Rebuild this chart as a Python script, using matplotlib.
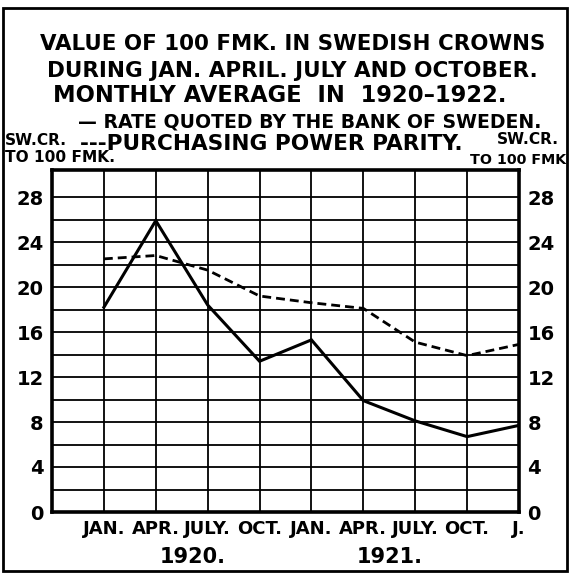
import matplotlib
matplotlib.use("Agg")
import matplotlib.pyplot as plt
import matplotlib.transforms as mtransforms
from matplotlib.patches import Rectangle

# quarter labels along the bottom, Jan 1920 .. Jan 1922
months = ["JAN.", "APR.", "JULY.", "OCT.", "JAN.", "APR.", "JULY.", "OCT.", "J."]
years = ["1920.", "1921."]
year_pos = [2.72, 6.5]

# Swedish crowns per 100 Finnish marks
bank_rate = [18.2, 25.9, 18.4, 13.4, 15.3, 9.9, 8.1, 6.7, 7.7]
parity = [22.5, 22.8, 21.5, 19.2, 18.6, 18.1, 15.1, 13.9, 14.9]

y_labels = [0, 4, 8, 12, 16, 20, 24, 28]

W, H = 570, 575
fig = plt.figure(figsize=(W / 100, H / 100), dpi=100)
plt.rcParams['font.family'] = ['DejaVu Sans']
renderer = fig.canvas.get_renderer()


def fit_text(s, x0, x1, base, size=14):
    # put text with its left edge at x0 and stretch font so it ends at x1 (pixels)
    t = fig.text(x0 / W, 1 - base / H, s, fontsize=size, fontweight='bold',
                 ha='left', va='baseline')
    bb = t.get_window_extent(renderer)
    t.set_fontsize(size * (x1 - x0) / bb.width)
    return t


fit_text("VALUE OF 100 FMK. IN SWEDISH CROWNS", 40, 545, 50)
fit_text("DURING JAN. APRIL. JULY AND OCTOBER.", 47, 537, 77)
fit_text("MONTHLY AVERAGE  IN  1920\u20131922.", 53, 507, 102)
fit_text("\u2014 RATE QUOTED BY THE BANK OF SWEDEN.", 78, 540, 127)
fit_text("SW.CR.", 5, 67, 145)
fit_text("---PURCHASING POWER PARITY.", 80, 462, 150)
fit_text("SW.CR.", 497, 559, 144)
fit_text("TO 100 FMK.", 5, 115, 162)
fit_text("TO 100 FMK", 470, 566, 164)

# outer border of the sheet
fig.patches.append(Rectangle((3 / W, 1 - 571 / H), 564 / W, 563 / H,
                             transform=fig.transFigure, fill=False,
                             edgecolor='black', linewidth=2))

ax = fig.add_axes([52 / W, 1 - 512 / H, 467 / W, 342 / H])
x = list(range(1, len(months) + 1))
ax.plot(x, bank_rate, color='black', linewidth=2.2, solid_joinstyle='miter')
ax.plot(x, parity, color='black', linewidth=2.0, dashes=(3.2, 1.8))

ax.set_xlim(0, 9)
ax.set_ylim(0, 30.4)
ax.set_xticks(x)
ax.set_xticklabels(months, fontsize=13, fontweight='bold')
ax.set_xticks(range(0, 10), minor=True)
ax.set_yticks(y_labels)
ax.set_yticklabels([str(v) for v in y_labels], fontsize=14, fontweight='bold')
ax.set_yticks(range(0, 29, 2), minor=True)
ax.tick_params(which='both', length=0)
ax.tick_params(axis='y', pad=6, labelright=True)
ax.tick_params(axis='x', pad=6)
ax.grid(which='both', color='black', linewidth=1.3)
ax.set_axisbelow(True)
for sp in ax.spines.values():
    sp.set_linewidth(2.6)

trans = mtransforms.blended_transform_factory(ax.transData, fig.transFigure)
for yr, xp in zip(years, year_pos):
    ax.text(xp, 1 - 563 / H, yr, transform=trans, ha='center', va='baseline',
            fontsize=15, fontweight='bold')

fig.savefig("out.png", dpi=100)
